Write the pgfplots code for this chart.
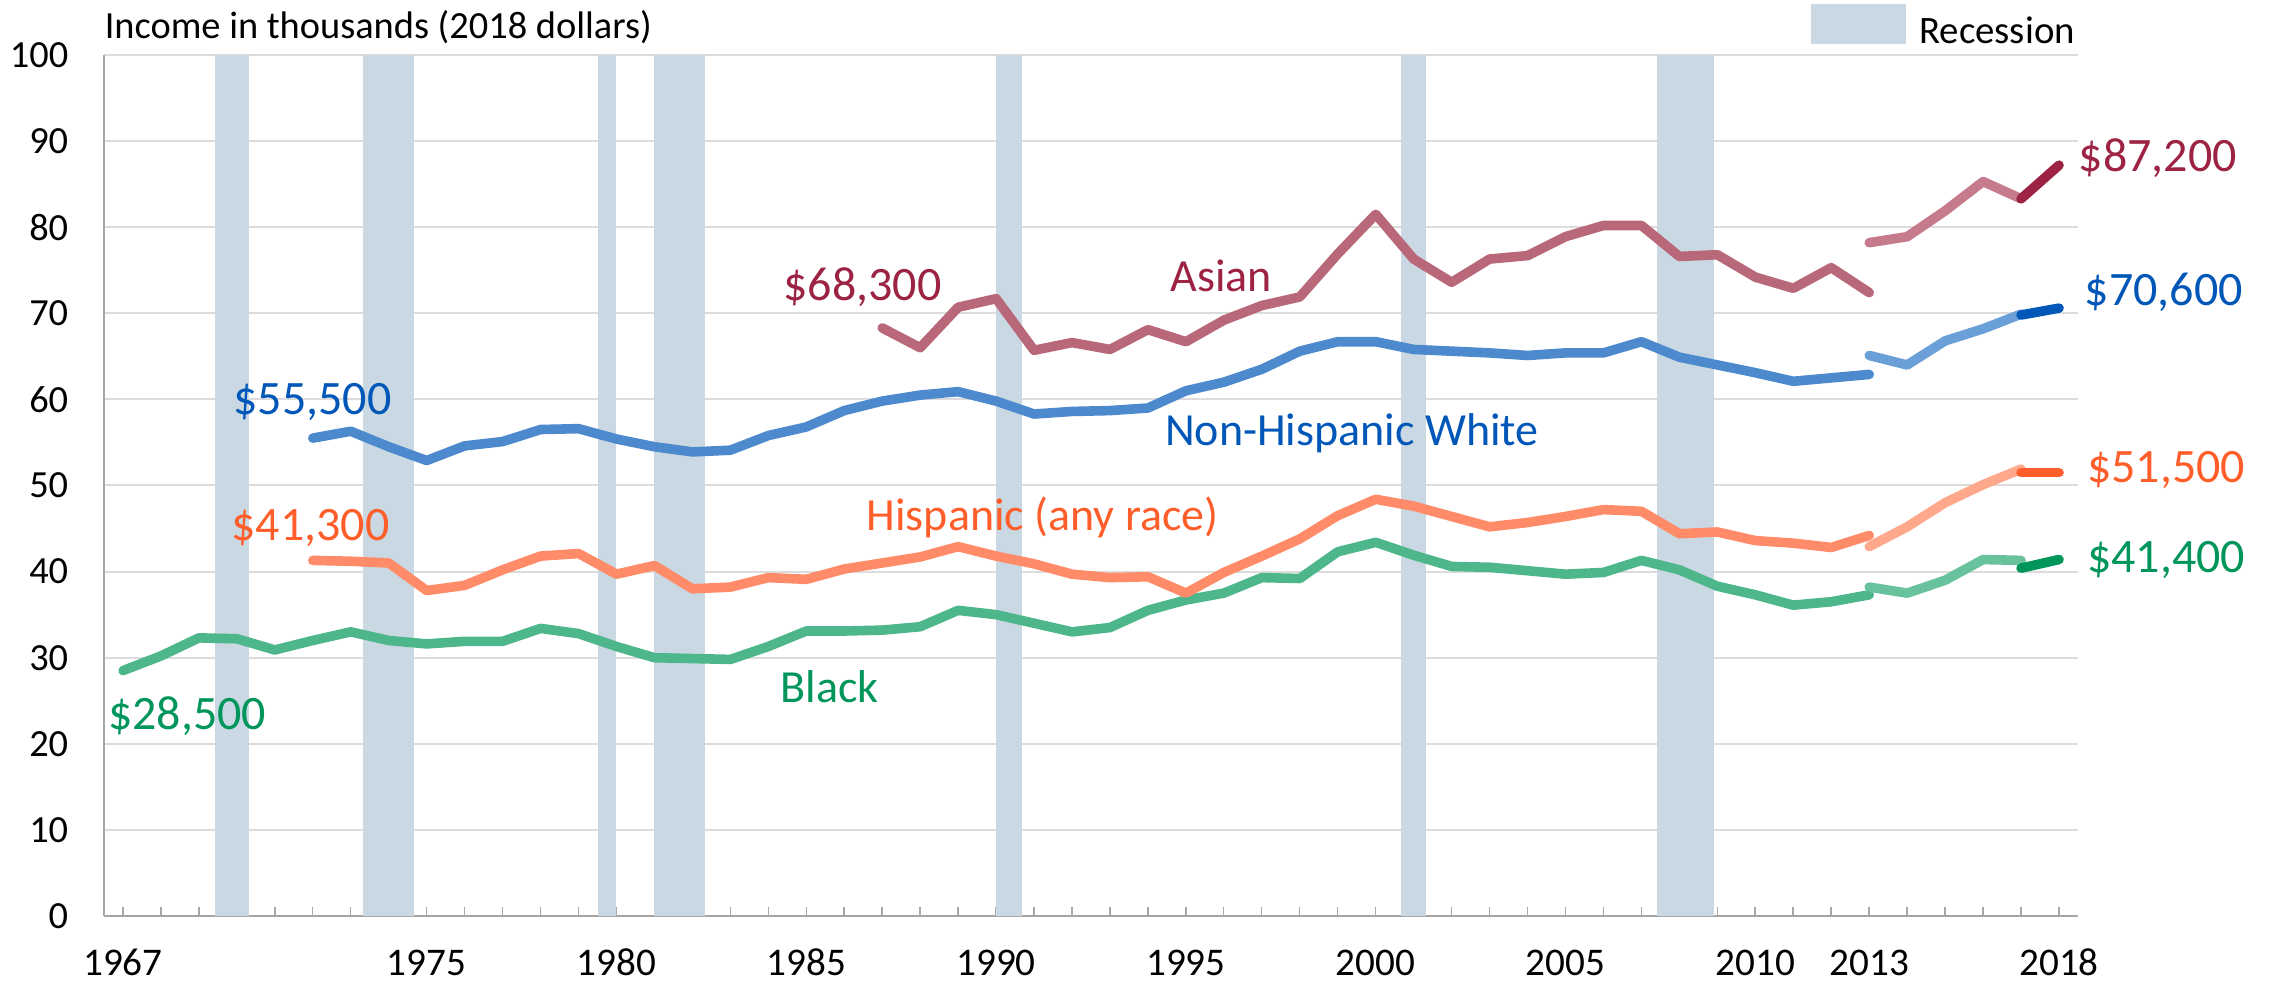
\documentclass[border=0pt]{standalone}
\usepackage{fontspec}
\setmainfont{Carlito}
\usepackage{pgfplots}
\pgfplotsset{compat=1.18}
\definecolor{recess}{HTML}{C9D8E2}
\definecolor{axisgray}{HTML}{A6A6A6}
\definecolor{gridgray}{HTML}{DCDCDC}
\definecolor{asianA}{HTML}{B86878}
\definecolor{asianB}{HTML}{C67B8C}
\definecolor{asianC}{HTML}{9C2343}
\definecolor{whiteA}{HTML}{4D89CD}
\definecolor{whiteB}{HTML}{6A9FD7}
\definecolor{whiteC}{HTML}{0057B8}
\definecolor{hispA}{HTML}{FF8B68}
\definecolor{hispB}{HTML}{FFA88C}
\definecolor{hispC}{HTML}{FF5E2B}
\definecolor{blackA}{HTML}{4DB68B}
\definecolor{blackB}{HTML}{68C29E}
\definecolor{blackC}{HTML}{00955A}
\begin{document}
\begin{tikzpicture}[font=\fontsize{9.6}{11}\selectfont]
\begin{axis}[
  at={(0,0)}, anchor=south west,
  scale only axis, width=493.5pt, height=215.25pt,
  xmin=1966.5, xmax=2018.5, ymin=0, ymax=100,
  clip=false,
  axis x line=bottom, axis y line=left,
  axis line style={-, draw=axisgray, line width=0.6pt},
  xtick={1967,1975,1980,1985,1990,1995,2000,2005,2010,2013,2018},
  minor xtick={1968,...,2017},
  ytick={0,10,...,100},
  tick align=inside,
  major tick length=2.25pt, minor tick length=2.25pt,
  xtick style={draw=axisgray, line width=0.35pt},
  minor tick style={draw=axisgray, line width=0.35pt},
  ytick style={draw=none},
  ymajorgrids, grid style={draw=gridgray, line width=0.5pt},
  /pgf/number format/assume math mode=true,
  /pgf/number format/1000 sep={},
  xticklabel style={font=\fontsize{9.8}{11}\selectfont, text=black, anchor=base, inner sep=0pt, yshift=-15pt},
  yticklabel style={font=\fontsize{9.6}{11}\selectfont, text=black, anchor=east, inner sep=0pt, xshift=-8.75pt},
  legend style={at={(axis description cs:0.8647,1.0593)}, anchor=north west,
    draw=none, fill=none, inner sep=0pt, outer sep=0pt, column sep=3.4pt,
    nodes={inner sep=0pt, font=\fontsize{9.7}{11}\selectfont}},
  legend cell align=left,
  every axis plot/.append style={line cap=round, line join=round},
]
% recession bars
\addplot[fill=recess, draw=none, legend image code/.code={\fill[recess] (0pt,-2.75pt) rectangle (23.7pt,7.35pt);}] coordinates {(1969.42,100) (1970.33,100)} \closedcycle;
\addlegendentry{Recession}
\addplot[fill=recess, draw=none, forget plot] coordinates {(1973.33,100) (1974.67,100)} \closedcycle;
\addplot[fill=recess, draw=none, forget plot] coordinates {(1979.50,100) (1980.00,100)} \closedcycle;
\addplot[fill=recess, draw=none, forget plot] coordinates {(1981.00,100) (1982.33,100)} \closedcycle;
\addplot[fill=recess, draw=none, forget plot] coordinates {(1990.00,100) (1990.67,100)} \closedcycle;
\addplot[fill=recess, draw=none, forget plot] coordinates {(2000.67,100) (2001.33,100)} \closedcycle;
\addplot[fill=recess, draw=none, forget plot] coordinates {(2007.42,100) (2008.92,100)} \closedcycle;

% Black
\addplot[blackA, line width=2.4pt, forget plot] coordinates {
(1967,28.5) (1968,30.2) (1969,32.3) (1970,32.2) (1971,30.9) (1972,32.0) (1973,33.0) (1974,32.0)
(1975,31.6) (1976,31.9) (1977,31.9) (1978,33.4) (1979,32.8) (1980,31.3) (1981,30.0) (1982,29.9)
(1983,29.8) (1984,31.3) (1985,33.1) (1986,33.1) (1987,33.2) (1988,33.6) (1989,35.5) (1990,35.0)
(1991,34.0) (1992,33.0) (1993,33.5) (1994,35.5) (1995,36.7) (1996,37.5) (1997,39.3) (1998,39.2)
(1999,42.3) (2000,43.4) (2001,41.9) (2002,40.6) (2003,40.5) (2004,40.1) (2005,39.7) (2006,39.9)
(2007,41.3) (2008,40.2) (2009,38.3) (2010,37.3) (2011,36.1) (2012,36.5) (2013,37.3)};
\addplot[blackB, line width=2.4pt, forget plot] coordinates {(2013,38.2) (2014,37.5) (2015,39.0) (2016,41.4) (2017,41.3)};
\addplot[blackC, line width=2.4pt, forget plot] coordinates {(2017,40.4) (2018,41.4)};

% Hispanic
\addplot[hispA, line width=2.4pt, forget plot] coordinates {
(1972,41.3) (1973,41.2) (1974,41.0) (1975,37.8) (1976,38.4) (1977,40.2) (1978,41.8) (1979,42.1)
(1980,39.7) (1981,40.7) (1982,38.0) (1983,38.2) (1984,39.3) (1985,39.1) (1986,40.3) (1987,41.0)
(1988,41.7) (1989,42.9) (1990,41.8) (1991,40.9) (1992,39.7) (1993,39.3) (1994,39.4) (1995,37.5)
(1996,39.9) (1997,41.8) (1998,43.8) (1999,46.5) (2000,48.4) (2001,47.6) (2002,46.4) (2003,45.2)
(2004,45.7) (2005,46.4) (2006,47.2) (2007,47.0) (2008,44.4) (2009,44.6) (2010,43.6) (2011,43.3)
(2012,42.8) (2013,44.2)};
\addplot[hispB, line width=2.4pt, forget plot] coordinates {(2013,42.9) (2014,45.2) (2015,48.0) (2016,50.1) (2017,51.9)};
\addplot[hispC, line width=2.4pt, forget plot] coordinates {(2017,51.5) (2018,51.5)};

% Non-Hispanic White
\addplot[whiteA, line width=2.4pt, forget plot] coordinates {
(1972,55.5) (1973,56.3) (1974,54.5) (1975,52.9) (1976,54.6) (1977,55.1) (1978,56.5) (1979,56.6)
(1980,55.4) (1981,54.5) (1982,53.9) (1983,54.1) (1984,55.8) (1985,56.8) (1986,58.7) (1987,59.8)
(1988,60.5) (1989,60.9) (1990,59.8) (1991,58.3) (1992,58.6) (1993,58.7) (1994,59.0) (1995,61.0)
(1996,62.0) (1997,63.5) (1998,65.6) (1999,66.7) (2000,66.7) (2001,65.8) (2002,65.6) (2003,65.4)
(2004,65.1) (2005,65.4) (2006,65.4) (2007,66.7) (2008,64.9) (2009,64.0) (2010,63.1) (2011,62.1)
(2012,62.5) (2013,62.9)};
\addplot[whiteB, line width=2.4pt, forget plot] coordinates {(2013,65.1) (2014,64.0) (2015,66.8) (2016,68.2) (2017,69.9)};
\addplot[whiteC, line width=2.4pt, forget plot] coordinates {(2017,69.8) (2018,70.6)};

% Asian
\addplot[asianA, line width=2.4pt, forget plot] coordinates {
(1987,68.3) (1988,66.0) (1989,70.7) (1990,71.7) (1991,65.7) (1992,66.6) (1993,65.8) (1994,68.1)
(1995,66.7) (1996,69.2) (1997,70.9) (1998,71.9) (1999,76.9) (2000,81.5) (2001,76.3) (2002,73.6)
(2003,76.3) (2004,76.7) (2005,78.9) (2006,80.2) (2007,80.2) (2008,76.6) (2009,76.8) (2010,74.2)
(2011,72.9) (2012,75.3) (2013,72.4)};
\addplot[asianB, line width=2.4pt, forget plot] coordinates {(2013,78.2) (2014,78.9) (2015,81.9) (2016,85.3) (2017,83.3)};
\addplot[asianC, line width=2.4pt, forget plot] coordinates {(2017,83.3) (2018,87.2)};

% labels
\begin{scope}[every node/.style={inner sep=0pt, anchor=base west}]
\node[text=asianC, font=\fontsize{12}{14}\selectfont] at (axis cs:1984.38,71.5) {\$68,300};
\node[text=asianC, font=\fontsize{11.5}{14}\selectfont] at (axis cs:1994.58,72.54) {Asian};
\node[text=asianC, font=\fontsize{12}{14}\selectfont] at (axis cs:2018.5,86.45) {\$87,200};
\node[text=whiteC, font=\fontsize{12}{14}\selectfont] at (axis cs:1969.89,58.19) {\$55,500};
\node[text=whiteC, font=\fontsize{11.5}{14}\selectfont] at (axis cs:1994.43,54.61) {Non-Hispanic White};
\node[text=whiteC, font=\fontsize{12}{14}\selectfont] at (axis cs:2018.66,70.9) {\$70,600};
\node[text=hispC, font=\fontsize{12}{14}\selectfont] at (axis cs:1969.84,43.59) {\$41,300};
\node[text=hispC, font=\fontsize{11.5}{14}\selectfont] at (axis cs:1986.57,44.83) {Hispanic (any race)};
\node[text=hispC, font=\fontsize{12}{14}\selectfont] at (axis cs:2018.72,50.33) {\$51,500};
\node[text=blackC, font=\fontsize{12}{14}\selectfont] at (axis cs:1966.59,21.68) {\$28,500};
\node[text=blackC, font=\fontsize{11.5}{14}\selectfont] at (axis cs:1984.3,24.78) {Black};
\node[text=blackC, font=\fontsize{12}{14}\selectfont] at (axis cs:2018.72,39.88) {\$41,400};
\end{scope}
\end{axis}
\node[anchor=base west, inner sep=0pt, font=\fontsize{9.6}{11}\selectfont] at (0pt,219.25pt) {Income in thousands (2018 dollars)};
\pgfresetboundingbox
\path[use as bounding box] (-26pt,-16.75pt) rectangle (541.25pt,229pt);
\end{tikzpicture}
\end{document}
